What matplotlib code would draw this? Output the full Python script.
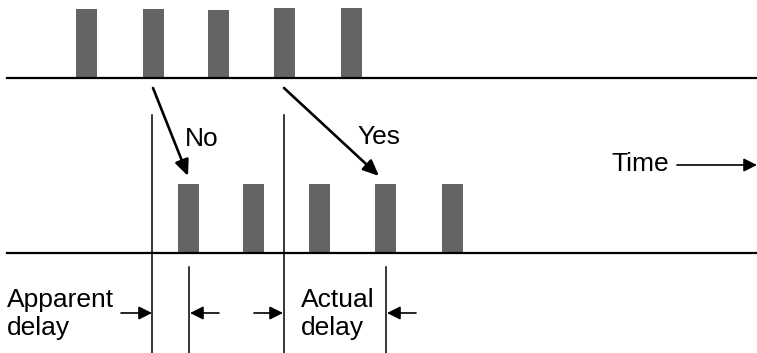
import matplotlib.pyplot as plt

# ----------------------------
# pulse trains (pixel coordinates, y grows downwards)
top_pulse_x   = [76, 143, 208, 274, 341]
top_pulse_top = [9, 9, 10, 8, 8]
bot_pulse_x   = [178, 243, 309, 375, 442]
bot_pulse_top = [184, 184, 184, 184, 184]

top_base = 78
bot_base = 253
pulse_w  = 21

labels = ['No', 'Yes', 'Time', 'Apparent', 'delay', 'Actual', 'delay']
# ----------------------------
plt.rcParams['font.family'] = ['Liberation Sans', 'DejaVu Sans']

fig = plt.figure(figsize=(7.57, 3.53), dpi=100)
ax  = fig.add_axes([0, 0, 1, 1])
ax.set_xlim(0, 757)
ax.set_ylim(353, 0)
ax.axis('off')

col = '#646464'
ax.bar(top_pulse_x, [t - top_base for t in top_pulse_top], bottom=top_base,
       width=pulse_w, align='edge', color=col, zorder=1)
ax.bar(bot_pulse_x, [t - bot_base for t in bot_pulse_top], bottom=bot_base,
       width=pulse_w, align='edge', color=col, zorder=1)

ax.plot([7, 757], [top_base, top_base], color='black', lw=1.6, zorder=2)
ax.plot([7, 757], [bot_base, bot_base], color='black', lw=1.6, zorder=2)

# markers of delay
ax.plot([152, 152], [115, 353], color='black', lw=1.1)
ax.plot([284, 284], [115, 353], color='black', lw=1.1)
ax.plot([189, 189], [267, 353], color='black', lw=1.1)
ax.plot([386, 386], [267, 353], color='black', lw=1.1)

big = dict(arrowstyle='-|>,head_length=0.95,head_width=0.42', color='black', lw=1.9,
           shrinkA=0, shrinkB=0)
ax.annotate('', xy=(188, 176), xytext=(153, 88), arrowprops=big)
ax.annotate('', xy=(379, 176), xytext=(284, 88), arrowprops=big)

small = dict(arrowstyle='-|>,head_length=0.8,head_width=0.4', color='black', lw=1.2,
             shrinkA=0, shrinkB=0)
ax.annotate('', xy=(152, 313), xytext=(121, 313), arrowprops=small)
ax.annotate('', xy=(190, 313), xytext=(219, 313), arrowprops=small)
ax.annotate('', xy=(283, 313), xytext=(254, 313), arrowprops=small)
ax.annotate('', xy=(387, 313), xytext=(416, 313), arrowprops=small)
ax.annotate('', xy=(757, 165), xytext=(677, 165), arrowprops=small)

fs = 19
ax.text(185, 139, labels[0], fontsize=fs, va='center', ha='left')
ax.text(357, 137, labels[1], fontsize=fs, va='center', ha='left')
ax.text(611, 164, labels[2], fontsize=fs, va='center', ha='left')
ax.text(7, 300, labels[3], fontsize=fs, va='center', ha='left')
ax.text(7, 328, labels[4], fontsize=fs, va='center', ha='left')
ax.text(301, 300, labels[5], fontsize=fs, va='center', ha='left')
ax.text(301, 328, labels[6], fontsize=fs, va='center', ha='left')

fig.savefig('out.png', dpi=100)
